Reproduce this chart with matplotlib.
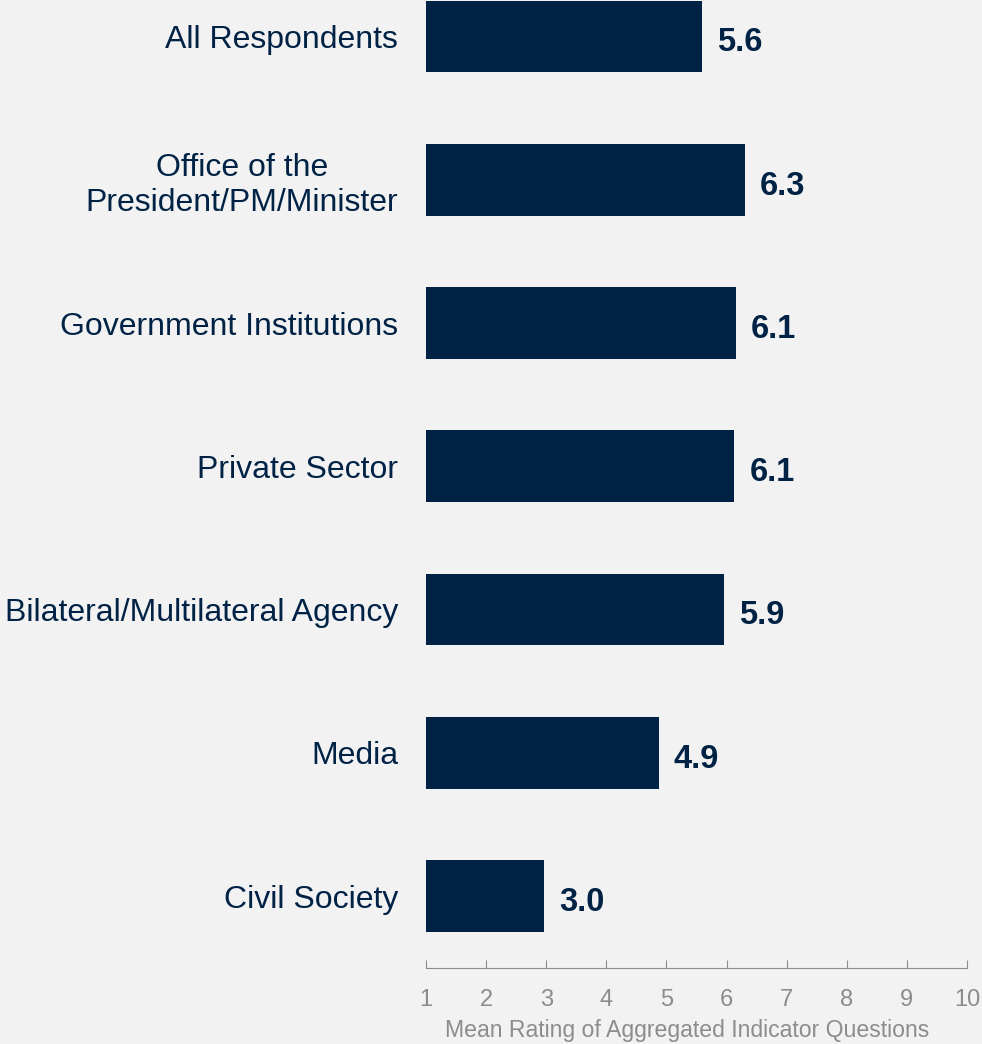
import matplotlib.pyplot as plt

plt.rcParams['font.family'] = ['Liberation Sans', 'DejaVu Sans']

# mean rating by respondent group
groups = ['All Respondents', 'Office of the\nPresident/PM/Minister', 'Government Institutions',
          'Private Sector', 'Bilateral/Multilateral Agency', 'Media', 'Civil Society']
ratings = [5.6, 6.3, 6.15, 6.13, 5.95, 4.87, 2.97]
rating_labels = ['5.6', '6.3', '6.1', '6.1', '5.9', '4.9', '3.0']
xticks = [1, 2, 3, 4, 5, 6, 7, 8, 9, 10]

navy = '#002245'
grey = '#8c8c8c'
bg = '#f2f2f2'

fig = plt.figure(figsize=(9.82, 10.44), dpi=100, facecolor=bg)
ax = fig.add_axes([0.4338, 0.0731, 0.5509, 0.9269], facecolor=bg)

pos = list(range(len(groups)))
ax.barh(pos, [r - 1 for r in ratings], left=1, height=0.5, color=navy)

for p, r, lab in zip(pos, ratings, rating_labels):
    ax.text(r + 0.25, p + 0.045, lab, va='center', ha='left', fontsize=23.5,
            fontweight='bold', color=navy)

ax.set_xlim(1, 10)
ax.set_ylim(6.5, -0.255)
ax.set_yticks(pos)
ax.set_yticklabels(groups, fontsize=23, color=navy, ha='right', multialignment='center')
ax.tick_params(axis='y', length=0, pad=20)
ax.set_xticks(xticks)
ax.set_xticklabels([str(t) for t in xticks], fontsize=17, color=grey)
ax.tick_params(axis='x', direction='in', length=6, color=grey, pad=15)
ax.set_xlabel('Mean Rating of Aggregated Indicator Questions', fontsize=16.6, color=grey)
ax.xaxis.set_label_coords(0.4825, -0.053)

for s in ['top', 'right', 'left']:
    ax.spines[s].set_visible(False)
ax.spines['bottom'].set_color(grey)

fig.savefig('out.png', dpi=100, facecolor=bg)
